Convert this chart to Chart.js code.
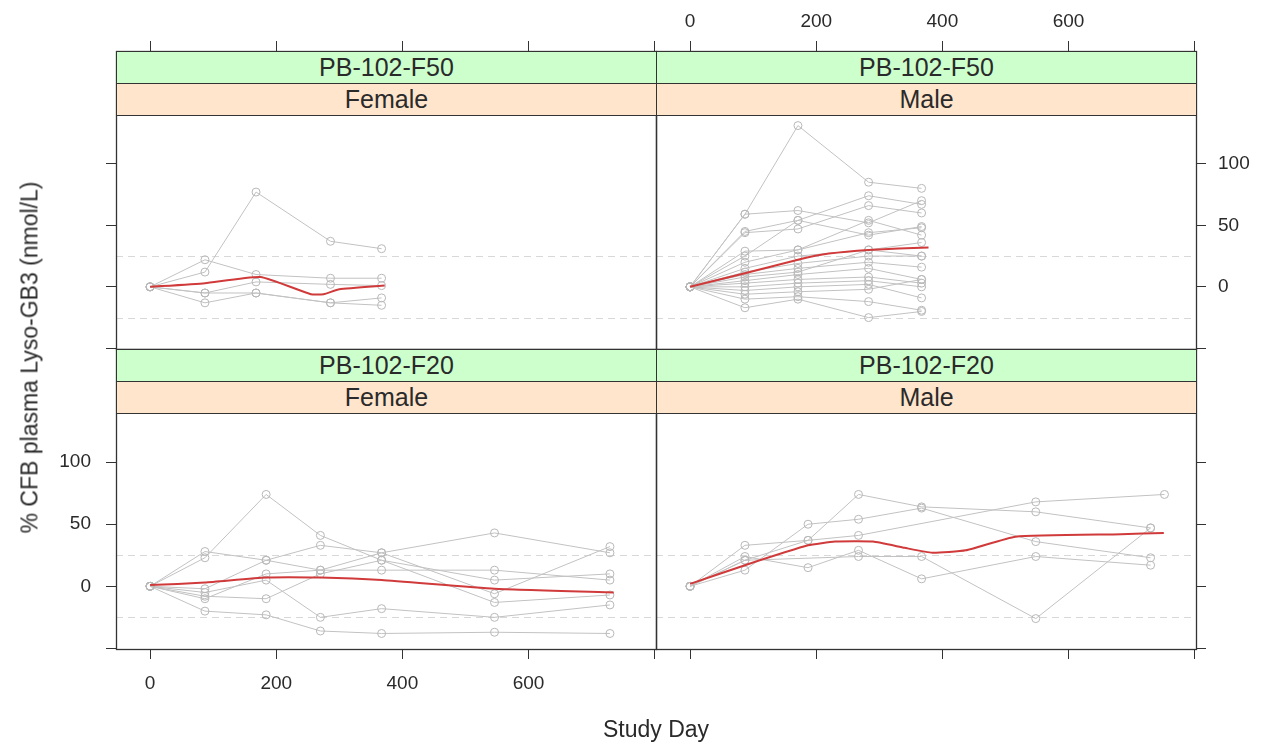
<!DOCTYPE html>
<html>
<head>
<meta charset="utf-8">
<script src="https://cdn.jsdelivr.net/npm/chart.js@4.4.1/dist/chart.umd.min.js"></script>
<style>
  body { margin: 0; background: #fff; }
  #page { position: relative; width: 1263px; height: 744px; overflow: hidden;
          font-family: "Liberation Sans", Arial, sans-serif; color: #2a2a2a; }
  canvas { position: absolute; left: 0; top: 0; }
  .strip { position: absolute; box-sizing: border-box; border: 1px solid #333;
           text-align: center; font-size: 25px; }
  .green { background: #ccffcc; }
  .peach { background: #ffe5cc; }
  .title { position: absolute; font-size: 23px; white-space: nowrap; }
</style>
</head>
<body>
<div id="page">
  <div class="title" id="xtitle">Study Day</div>
  <div class="title" id="ytitle">% CFB plasma Lyso-GB3 (nmol/L)</div>
</div>
<script>
// Axis ticks
const xTickValues = [0, 200, 400, 600, 800];
const xTickLabels = ['0', '200', '400', '600', ''];
const yTickValues = [-50, 0, 50, 100];
const yTickLabels = ['', '0', '50', '100'];
const refLines = [-25, 25];

// PB-102-F50, Female
const f50FemaleDays = [0, 87, 168, 286, 367];
const f50FemaleSubjects = [
  [0, 12, 77, 37, 31],
  [0, 22, 10, 7, 7],
  [0, -5, 4, 2, 1],
  [0, -5, -5, -13, -9],
  [0, -13, -5, -13, -15]
];
const f50FemaleMeanDays = [0, 87, 175, 255, 275, 300, 372];
const f50FemaleMean = [0, 3, 8, -6, -6, -2, 1];

// PB-102-F50, Male
const f50MaleDays = [0, 87, 171, 283, 367];
const f50MaleSubjects = [
  [0, 59, 131, 85, 80],
  [0, 59, 62, 52, 70],
  [0, 45, 54, 74, 67],
  [0, 44, 47, 66, 60],
  [0, 29, 30, 44, 48],
  [0, 25, 54, 42, 49],
  [0, 20, 30, 54, 42],
  [0, 15, 25, 30, 36],
  [0, 12, 19, 25, 25],
  [0, 10, 15, 20, 16],
  [0, 8, 12, 30, 25],
  [0, 5, 10, 15, 6],
  [0, 3, 6, 8, 3],
  [0, 0, 3, 5, 0],
  [0, -3, 0, 2, -9],
  [0, -6, -4, -2, 6],
  [0, -10, -8, -12, -19],
  [0, -17, -10, -25, -20]
];
const f50MaleMeanDays = [0, 87, 171, 220, 283, 378];
const f50MaleMean = [0, 11, 22, 27, 30, 32];

// PB-102-F20, Female
const f20FemaleDays = [0, 87, 184, 270, 367, 546, 729];
const f20FemaleSubjects = [
  [0, 23, 74, 41, 21, 5, 10],
  [0, 28, 21, 33, 27, 43, 27],
  [0, -2, 21, 13, 27, -6, 32],
  [0, -10, 10, 13, 13, 13, 5],
  [0, -20, -23, -36, -38, -37, -38],
  [0, -5, 5, -25, -18, -25, -15],
  [0, -8, -10, 10, 21, -13, -7]
];
const f20FemaleMeanDays = [0, 87, 184, 270, 367, 546, 735];
const f20FemaleMean = [1, 3, 7, 7, 5, -2, -5];

// PB-102-F20, Male
const f20MaleDays = [0, 87, 187, 267, 367, 548, 730, 752];
const f20MaleSubjects = [
  [0, 21, 37, 74, 64, 60, 47, null],
  [0, 33, 37, 41, null, 68, null, 74],
  [0, 13, 50, 54, 63, 36, 23, null],
  [0, 24, 15, 29, 6, 24, 17, null],
  [0, 21, null, 24, 24, -26, 47, null]
];
const f20MaleMeanDays = [0, 87, 187, 230, 290, 340, 384, 437, 516, 683, 751];
const f20MaleMean = [2, 17, 33, 36, 36, 31, 27, 29, 40, 42, 43];

// layout of the lattice
const W = 1263, H = 744;
const COLS = [[116, 656], [656, 1196]];
const ROWS = [[51, 349], [349, 649]];
const STRIP_H = 32;
const X_MIN = -54, X_MAX = 802;
const Y_MIN = -50.5, Y_MAX = 139.6;
const FONT = '"Liberation Sans", Arial, sans-serif';

const panels = [
  { dose: 'PB-102-F50', sex: 'Female', col: 0, row: 0, days: f50FemaleDays, subjects: f50FemaleSubjects,
    meanDays: f50FemaleMeanDays, mean: f50FemaleMean, xLabels: false, yLabels: false },
  { dose: 'PB-102-F50', sex: 'Male', col: 1, row: 0, days: f50MaleDays, subjects: f50MaleSubjects,
    meanDays: f50MaleMeanDays, mean: f50MaleMean, xLabels: true, yLabels: true },
  { dose: 'PB-102-F20', sex: 'Female', col: 0, row: 1, days: f20FemaleDays, subjects: f20FemaleSubjects,
    meanDays: f20FemaleMeanDays, mean: f20FemaleMean, xLabels: true, yLabels: true },
  { dose: 'PB-102-F20', sex: 'Male', col: 1, row: 1, days: f20MaleDays, subjects: f20MaleSubjects,
    meanDays: f20MaleMeanDays, mean: f20MaleMean, xLabels: false, yLabels: false }
];

const page = document.getElementById('page');

// dashed reference lines and the panel frame
const latticePlugin = {
  id: 'lattice',
  beforeDatasetsDraw(chart) {
    const { ctx, chartArea } = chart;
    const y = chart.scales.y;
    ctx.save();
    ctx.strokeStyle = '#d8d8d8';
    ctx.lineWidth = 1;
    ctx.setLineDash([7, 5]);
    refLines.forEach(v => {
      const py = Math.round(y.getPixelForValue(v)) + 0.5;
      ctx.beginPath();
      ctx.moveTo(chartArea.left, py);
      ctx.lineTo(chartArea.right, py);
      ctx.stroke();
    });
    ctx.restore();
  },
  afterDraw(chart) {
    const { ctx, chartArea } = chart;
    ctx.save();
    ctx.strokeStyle = '#333';
    ctx.lineWidth = 1.3;
    ctx.strokeRect(chartArea.left + 0.5, chartArea.top + 0.5,
      chartArea.right - chartArea.left, chartArea.bottom - chartArea.top);
    ctx.restore();
  }
};

function toPoints(days, values) {
  return days.map((d, i) => ({ x: d, y: values[i] })).filter(p => p.y !== null);
}

panels.forEach(p => {
  const [left, right] = COLS[p.col];
  const [top, bottom] = ROWS[p.row];
  const plotH = bottom - top - 2 * STRIP_H;
  const yMaxChart = Y_MIN + (Y_MAX - Y_MIN) * (bottom - top) / plotH;
  const xOnTop = p.row === 0;
  const yOnLeft = p.col === 0;
  const AXW = 60, AXH = 45;

  const canvas = document.createElement('canvas');
  canvas.width = W; canvas.height = H;
  page.insertBefore(canvas, page.firstChild);

  const datasets = p.subjects.map(s => ({
    data: toPoints(p.days, s),
    borderColor: '#c2c2c2',
    borderWidth: 1,
    pointStyle: 'circle',
    pointRadius: 4,
    pointBorderColor: '#b8b8b8',
    pointBackgroundColor: 'rgba(255,255,255,0)',
    pointBorderWidth: 1,
    tension: 0,
    order: 1
  }));
  datasets.push({
    data: toPoints(p.meanDays, p.mean),
    borderColor: '#d03a3a',
    borderWidth: 2,
    pointRadius: 0,
    tension: 0.15,
    order: 0
  });

  new Chart(canvas, {
    type: 'line',
    data: { datasets },
    options: {
      responsive: false,
      animation: false,
      events: [],
      layout: {
        padding: {
          left: yOnLeft ? left - AXW : left,
          right: yOnLeft ? W - right : W - right - AXW,
          top: xOnTop ? top - AXH : top,
          bottom: xOnTop ? H - bottom : H - bottom - AXH
        }
      },
      plugins: { legend: { display: false }, tooltip: { enabled: false } },
      scales: {
        x: {
          type: 'linear',
          position: xOnTop ? 'top' : 'bottom',
          min: X_MIN, max: X_MAX,
          afterBuildTicks: s => { s.ticks = xTickValues.map(v => ({ value: v })); },
          afterFit: s => { s.height = AXH; },
          ticks: {
            autoSkip: false, maxRotation: 0,
            padding: xOnTop ? 8 : 13,
            color: '#2a2a2a', font: { family: FONT, size: 19 },
            callback: (v, i) => p.xLabels ? xTickLabels[i] : ''
          },
          grid: { drawOnChartArea: false, drawTicks: true, tickLength: 10, color: '#333', tickColor: '#333' },
          border: { display: false }
        },
        y: {
          type: 'linear',
          position: yOnLeft ? 'left' : 'right',
          min: Y_MIN, max: yMaxChart,
          afterBuildTicks: s => { s.ticks = yTickValues.map(v => ({ value: v })); },
          afterFit: s => { s.width = AXW; },
          ticks: {
            autoSkip: false,
            padding: yOnLeft ? 15 : 12,
            color: '#2a2a2a', font: { family: FONT, size: 19 },
            callback: (v, i) => p.yLabels ? yTickLabels[i] : ''
          },
          grid: { drawOnChartArea: false, drawTicks: true, tickLength: 10, color: '#333', tickColor: '#333' },
          border: { display: false }
        }
      }
    },
    plugins: [latticePlugin]
  });

  // strips: dose (green) above sex (peach)
  [[p.dose, 'green'], [p.sex, 'peach']].forEach(([label, cls], k) => {
    const d = document.createElement('div');
    d.className = 'strip ' + cls;
    d.textContent = label;
    d.style.left = left + 'px';
    d.style.width = (right - left + 1) + 'px';
    d.style.top = (top + k * STRIP_H) + 'px';
    d.style.height = (STRIP_H + 1) + 'px';
    d.style.lineHeight = (STRIP_H - 1) + 'px';
    page.appendChild(d);
  });
});

const xt = document.getElementById('xtitle');
xt.style.left = (656 - xt.offsetWidth / 2) + 'px';
xt.style.top = '716px';
const yt = document.getElementById('ytitle');
yt.style.left = (30 - yt.offsetWidth / 2) + 'px';
yt.style.top = (357 - yt.offsetHeight / 2) + 'px';
yt.style.transform = 'rotate(-90deg)';
</script>
</body>
</html>
